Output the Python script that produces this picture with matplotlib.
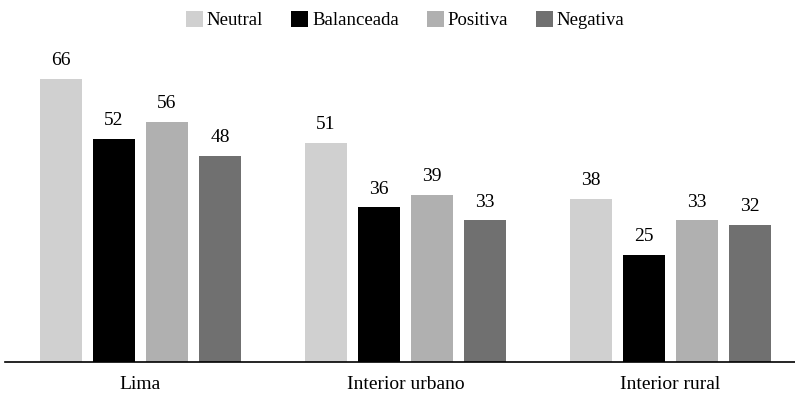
import matplotlib.pyplot as plt
import numpy as np

plt.rcParams['font.family'] = ['Liberation Serif', 'DejaVu Serif']

categories = ['Lima', 'Interior urbano', 'Interior rural']
series = ['Neutral', 'Balanceada', 'Positiva', 'Negativa']
values = {
    'Neutral': [66, 51, 38],
    'Balanceada': [52, 36, 25],
    'Positiva': [56, 39, 33],
    'Negativa': [48, 33, 32],
}
colors = ['#d0d0d0', '#000000', '#b0b0b0', '#707070']

fig = plt.figure(figsize=(7.95, 3.95), dpi=100)
ax = fig.add_axes([0.0063, 0.0835, 0.9937, 0.815])

x = np.arange(len(categories))
step = 0.2
width = 0.1585
for i, (name, col) in enumerate(zip(series, colors)):
    pos = x + (i - 1.5) * step
    bars = ax.bar(pos, values[name], width, color=col, label=name)
    for b, v in zip(bars, values[name]):
        ax.annotate(str(v), (b.get_x() + b.get_width() / 2, v),
                    xytext=(0, 7), textcoords='offset points',
                    ha='center', va='bottom', fontsize=14)

ax.set_xlim(-0.511, 2.47)
ax.set_ylim(0, 75)
ax.set_xticks(x)
ax.set_xticklabels(categories, fontsize=14)
ax.tick_params(axis='x', length=0, pad=10)
ax.set_yticks([])
for s in ['top', 'right', 'left']:
    ax.spines[s].set_visible(False)
ax.spines['bottom'].set_linewidth(1.2)

fig.legend(loc='upper center', bbox_to_anchor=(0.51, 1.015), ncol=4, frameon=False,
           fontsize=13.5, handlelength=0.9, handleheight=0.9, handletextpad=0.2,
           columnspacing=1.5)

fig.savefig('out.png', dpi=100)
